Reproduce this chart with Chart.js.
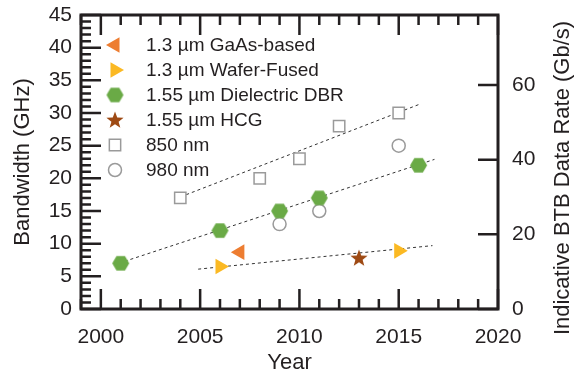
<!DOCTYPE html>
<html>
<head>
<meta charset="utf-8">
<script src="https://cdn.jsdelivr.net/npm/chart.js@4.4.0/dist/chart.umd.min.js"></script>
<style>
  html, body { margin: 0; padding: 0; background: #fff; }
  canvas { display: block; }
</style>
</head>
<body>
<canvas id="bw" width="577" height="374"></canvas>
<script>
// --- data ---
const seriesNames = ['1.3 µm GaAs-based', '1.3 µm Wafer-Fused', '1.55 µm Dielectric DBR', '1.55 µm HCG', '850 nm', '980 nm'];

const gaasYears = [2007];
const gaasBw = [8.7];
const fusedYears = [2006, 2015];
const fusedBw = [6.5, 8.9];
const dbrYears = [2001, 2006, 2009, 2011, 2016];
const dbrBw = [7, 12, 15, 17, 22];
const hcgYears = [2013];
const hcgBw = [7.8];
const nm850Years = [2004, 2008, 2010, 2012, 2015];
const nm850Bw = [17, 20, 23, 28, 30];
const nm980Years = [2009, 2011, 2015];
const nm980Bw = [13, 15, 25];

// dashed trend lines (start, end)
const trend850Years = [2004.3, 2016.1];
const trend850Bw = [17.5, 31.4];
const trendDbrYears = [2001.2, 2016.8];
const trendDbrBw = [7.3, 22.9];
const trend1300Years = [2004.9, 2016.7];
const trend1300Bw = [6.1, 9.7];

// tick labels
const yearTicks = [2000, 2005, 2010, 2015, 2020];
const bwTicks = [0, 5, 10, 15, 20, 25, 30, 35, 40, 45];
const rateTicks = [0, 20, 40, 60];
const rightTitle = 'Indicative BTB Data Rate (Gb/s)';

const ink = '#231f20';
const fontFam = '"Liberation Sans", Arial, Helvetica, sans-serif';

function pts(xs, ys) { return xs.map((x, i) => ({ x: x, y: ys[i] })); }

// custom marker shapes
function makeHex(color, r) {
    const c = document.createElement('canvas');
    const s = Math.ceil(r * 2) + 2;
    c.width = c.height = s;
    const g = c.getContext('2d');
    g.fillStyle = color;
    g.beginPath();
    for (let i = 0; i < 6; i++) {
        const a = Math.PI / 3 * i;
        g.lineTo(s / 2 + r * Math.cos(a), s / 2 + r * Math.sin(a));
    }
    g.closePath();
    g.fill();
    return c;
}
function makeStar(color, ro, ri) {
    const c = document.createElement('canvas');
    const s = Math.ceil(ro * 2) + 2;
    c.width = c.height = s;
    const g = c.getContext('2d');
    g.fillStyle = color;
    g.beginPath();
    for (let i = 0; i < 10; i++) {
        const r = i % 2 ? ri : ro;
        const a = -Math.PI / 2 + Math.PI / 5 * i;
        g.lineTo(s / 2 + r * Math.cos(a), s / 2 + 0.5 + r * Math.sin(a));
    }
    g.closePath();
    g.fill();
    return c;
}
const hexImg = makeHex('#6aaa46', 8.5);
const starImg = makeStar('#9e4a14', 9, 3.8);

function trend(xs, ys) {
    return {
        data: pts(xs, ys), showLine: true, borderColor: '#333', borderWidth: 1,
        borderDash: [3, 3], pointRadius: 0, order: 10, isTrend: true
    };
}

// --- frame with inward ticks, drawn from the scales ---
const framePlugin = {
    id: 'frameTicks',
    afterDraw(chart) {
        const { ctx, chartArea: a, scales } = chart;
        const x = scales.x, y = scales.y, y2 = scales.y2;
        ctx.save();
        ctx.strokeStyle = ink;
        ctx.lineWidth = 2.5;
        ctx.beginPath();
        for (let v = Math.ceil(x.min); v <= x.max; v++) {
            const px = x.getPixelForValue(v);
            const len = v % 5 === 0 ? 20 : 10;
            ctx.moveTo(px, a.top); ctx.lineTo(px, a.top + len);
            ctx.moveTo(px, a.bottom); ctx.lineTo(px, a.bottom - len);
        }
        for (let v = y.min; v <= y.max; v++) {
            const py = y.getPixelForValue(v);
            const len = v % 5 === 0 ? 20 : 10;
            ctx.moveTo(a.left, py); ctx.lineTo(a.left + len, py);
        }
        rateTicks.forEach(v => {
            const py = y2.getPixelForValue(v);
            ctx.moveTo(a.right, py); ctx.lineTo(a.right - 20, py);
        });
        ctx.stroke();
        ctx.lineWidth = 3;
        ctx.strokeRect(a.left, a.top, a.right - a.left, a.bottom - a.top);

        // right axis title reads bottom-to-top like the left one
        ctx.fillStyle = ink;
        ctx.font = '22px ' + fontFam;
        ctx.textAlign = 'center';
        ctx.textBaseline = 'middle';
        ctx.translate(563, (a.top + a.bottom) / 2 + 16);
        ctx.rotate(-Math.PI / 2);
        ctx.fillText(rightTitle, 0, 0);
        ctx.restore();
    }
};

// --- legend inside the plot area ---
const legendPlugin = {
    id: 'insideLegend',
    afterDraw(chart) {
        const ctx = chart.ctx;
        let row = 0;
        ctx.save();
        chart.data.datasets.forEach(ds => {
            if (ds.isTrend) return;
            const cy = 45 + row * 25;
            ctx.fillStyle = ds.backgroundColor;
            ctx.strokeStyle = ds.borderColor;
            ctx.lineWidth = ds.borderWidth;
            Chart.helpers.drawPoint(ctx, {
                pointStyle: ds.pointStyle, rotation: ds.rotation || 0,
                radius: ds.pointRadius, borderWidth: ds.borderWidth
            }, 115, cy);
            ctx.fillStyle = ink;
            ctx.font = '19px ' + fontFam;
            ctx.textBaseline = 'middle';
            ctx.textAlign = 'left';
            ctx.fillText(ds.label, 146, cy + 1);
            row++;
        });
        ctx.restore();
    }
};

const tickFont = { family: fontFam, size: 21 };
const titleFont = { family: fontFam, size: 22, lineHeight: 1 };

// keep the plot box fixed: no extra room for overhanging labels
function fixV(w) {
    return s => { s.width = w; s.paddingTop = 0; s.paddingBottom = 0; };
}

new Chart(document.getElementById('bw'), {
    type: 'scatter',
    data: {
        datasets: [
            { label: seriesNames[0], data: pts(gaasYears, gaasBw), pointStyle: 'triangle', rotation: -90,
              pointRadius: 9, backgroundColor: '#ed7d31', borderColor: '#ed7d31', borderWidth: 0 },
            { label: seriesNames[1], data: pts(fusedYears, fusedBw), pointStyle: 'triangle', rotation: 90,
              pointRadius: 9, backgroundColor: '#fbb923', borderColor: '#fbb923', borderWidth: 0 },
            { label: seriesNames[2], data: pts(dbrYears, dbrBw), pointStyle: hexImg,
              pointRadius: 9, backgroundColor: '#6aaa46', borderColor: '#6aaa46', borderWidth: 0 },
            { label: seriesNames[3], data: pts(hcgYears, hcgBw), pointStyle: starImg,
              pointRadius: 9, backgroundColor: '#9e4a14', borderColor: '#9e4a14', borderWidth: 0 },
            { label: seriesNames[4], data: pts(nm850Years, nm850Bw), pointStyle: 'rect',
              pointRadius: 8, backgroundColor: '#fff', borderColor: '#9a9a9a', borderWidth: 1.5 },
            { label: seriesNames[5], data: pts(nm980Years, nm980Bw), pointStyle: 'circle',
              pointRadius: 6.5, backgroundColor: '#fff', borderColor: '#9a9a9a', borderWidth: 1.5 },
            trend(trend850Years, trend850Bw),
            trend(trendDbrYears, trendDbrBw),
            trend(trend1300Years, trend1300Bw)
        ]
    },
    options: {
        responsive: false,
        animation: false,
        layout: { padding: { top: 15, right: 0, bottom: 0, left: 0 } },
        plugins: { legend: { display: false }, tooltip: { enabled: false } },
        scales: {
            x: {
                type: 'linear', position: 'bottom', min: 1999, max: 2020,
                afterBuildTicks: s => { s.ticks = yearTicks.map(v => ({ value: v })); },
                afterFit: s => { s.height = 65; s.paddingLeft = 0; s.paddingRight = 0; },
                grid: { display: false, drawTicks: false }, border: { display: false },
                ticks: { callback: v => String(v), padding: 16, font: tickFont, color: ink, maxRotation: 0, autoSkip: false },
                title: { display: true, text: 'Year', font: titleFont, color: ink, padding: { top: 0, bottom: 0 } }
            },
            y: {
                position: 'left', min: 0, max: 45,
                afterBuildTicks: s => { s.ticks = bwTicks.map(v => ({ value: v })); },
                afterFit: fixV(81),
                grid: { display: false, drawTicks: false }, border: { display: false },
                ticks: { callback: v => String(v), padding: 9, font: tickFont, color: ink, autoSkip: false },
                title: { display: true, text: 'Bandwidth (GHz)', font: titleFont, color: ink, padding: { top: 12, bottom: 0 } }
            },
            y2: {
                position: 'right', min: 0, max: 78.75,
                afterBuildTicks: s => { s.ticks = rateTicks.map(v => ({ value: v })); },
                afterFit: fixV(79),
                grid: { display: false, drawTicks: false }, border: { display: false },
                ticks: { callback: v => String(v), padding: 14, font: tickFont, color: ink, autoSkip: false },
                title: { display: false }
            }
        }
    },
    plugins: [framePlugin, legendPlugin]
});
</script>
</body>
</html>
